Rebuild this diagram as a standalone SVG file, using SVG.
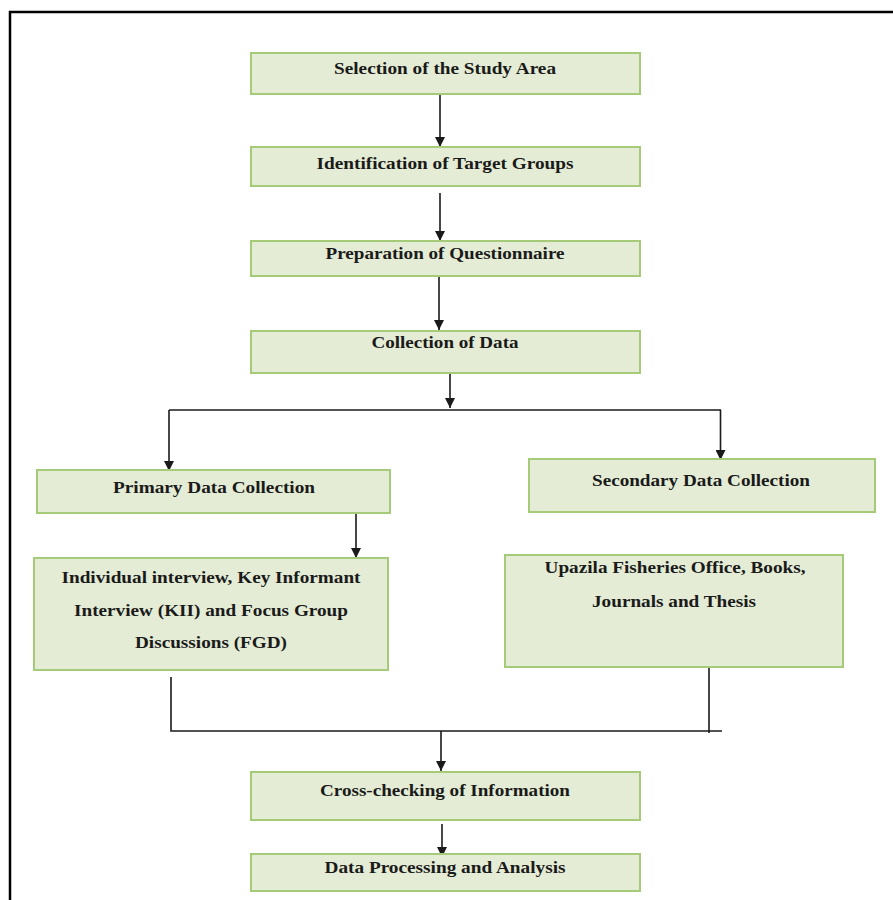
<svg xmlns="http://www.w3.org/2000/svg" width="893" height="900" viewBox="0 0 893 900">
<defs>
<style>
.box{fill:#e4ecd5;stroke:#a6cb78;stroke-width:2}
.lbl{font-family:"Liberation Serif","Times New Roman",serif;font-weight:bold;font-size:17px;fill:#1a1a1a;text-anchor:middle}
.ln{fill:none;stroke:#1a1a1a;stroke-width:1.6}
.frame{fill:none;stroke:#000;stroke-width:2.5}
</style>
<marker id="ah" viewBox="0 0 10 10" refX="10" refY="5" markerWidth="10" markerHeight="10" markerUnits="userSpaceOnUse" orient="auto">
<path d="M0,0 L10,5 L0,10 Z" fill="#1a1a1a"/>
</marker>
</defs>
<rect width="893" height="900" fill="#fff"/>
<path class="frame" d="M10,900 V12 H893"/>

<g id="connectors">
<line class="ln" x1="440" y1="95" x2="440" y2="147" marker-end="url(#ah)"/>
<line class="ln" x1="440" y1="193" x2="440" y2="241" marker-end="url(#ah)"/>
<line class="ln" x1="439" y1="277" x2="439" y2="330" marker-end="url(#ah)"/>
<line class="ln" x1="450" y1="373" x2="450" y2="408" marker-end="url(#ah)"/>
<path class="ln" d="M169,410 H721"/>
<line class="ln" x1="169" y1="410" x2="169" y2="471" marker-end="url(#ah)"/>
<line class="ln" x1="720.5" y1="410" x2="720.5" y2="460" marker-end="url(#ah)"/>
<line class="ln" x1="356" y1="513" x2="356" y2="558" marker-end="url(#ah)"/>
<path class="ln" d="M171,677 V731 H722"/>
<line class="ln" x1="709" y1="665" x2="709" y2="733"/>
<line class="ln" x1="441" y1="731" x2="441" y2="771" marker-end="url(#ah)"/>
<line class="ln" x1="442" y1="824" x2="442" y2="857" marker-end="url(#ah)"/>
</g>

<g id="n1">
<rect class="box" x="251" y="53" width="389" height="41"/>
<text class="lbl" x="445" y="74" textLength="222" lengthAdjust="spacingAndGlyphs">Selection of the Study Area</text>
</g>
<g id="n2">
<rect class="box" x="251" y="147" width="389" height="39"/>
<text class="lbl" x="445" y="169" textLength="257" lengthAdjust="spacingAndGlyphs">Identification of Target Groups</text>
</g>
<g id="n3">
<rect class="box" x="251" y="241" width="389" height="35"/>
<text class="lbl" x="445" y="259" textLength="239" lengthAdjust="spacingAndGlyphs">Preparation of Questionnaire</text>
</g>
<g id="n4">
<rect class="box" x="251" y="331" width="389" height="42"/>
<text class="lbl" x="445" y="348" textLength="147" lengthAdjust="spacingAndGlyphs">Collection of Data</text>
</g>
<g id="n5">
<rect class="box" x="37" y="470" width="353" height="43"/>
<text class="lbl" x="214" y="493" textLength="202" lengthAdjust="spacingAndGlyphs">Primary Data Collection</text>
</g>
<g id="n6">
<rect class="box" x="529" y="459" width="346" height="53"/>
<text class="lbl" x="701" y="486" textLength="218" lengthAdjust="spacingAndGlyphs">Secondary Data Collection</text>
</g>
<g id="n7">
<rect class="box" x="34" y="558" width="354" height="112"/>
<text class="lbl" x="211" y="583" textLength="299" lengthAdjust="spacingAndGlyphs">Individual interview, Key Informant</text>
<text class="lbl" x="211" y="616" textLength="274" lengthAdjust="spacingAndGlyphs">Interview (KII) and Focus Group</text>
<text class="lbl" x="211" y="648" textLength="152" lengthAdjust="spacingAndGlyphs">Discussions (FGD)</text>
</g>
<g id="n8">
<rect class="box" x="505" y="555" width="338" height="112"/>
<text class="lbl" x="675" y="573" textLength="261" lengthAdjust="spacingAndGlyphs">Upazila Fisheries Office, Books,</text>
<text class="lbl" x="674" y="607" textLength="164" lengthAdjust="spacingAndGlyphs">Journals and Thesis</text>
</g>
<g id="n9">
<rect class="box" x="251" y="772" width="389" height="48"/>
<text class="lbl" x="445" y="796" textLength="250" lengthAdjust="spacingAndGlyphs">Cross-checking of Information</text>
</g>
<g id="n10">
<rect class="box" x="251" y="854" width="389" height="37"/>
<text class="lbl" x="445" y="873" textLength="241" lengthAdjust="spacingAndGlyphs">Data Processing and Analysis</text>
</g>
</svg>
